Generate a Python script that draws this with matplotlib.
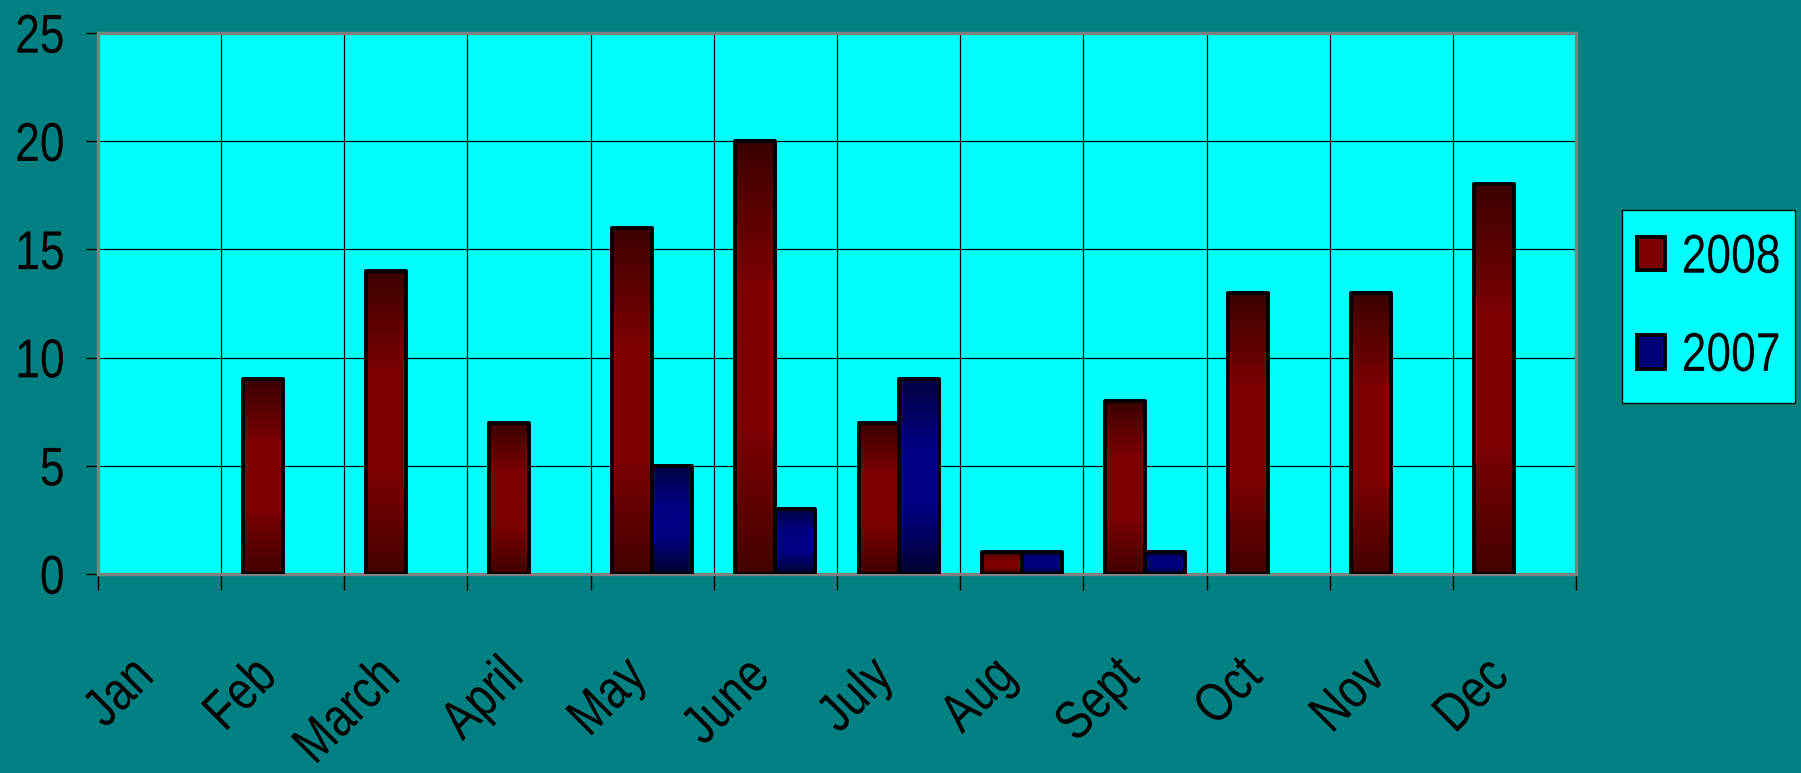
import matplotlib
matplotlib.use("Agg")
import matplotlib.pyplot as plt
import numpy as np
from matplotlib.colors import LinearSegmentedColormap
from matplotlib.patches import Rectangle
from matplotlib.patheffects import AbstractPathEffect
from matplotlib.transforms import Affine2D

months = ["Jan", "Feb", "March", "April", "May", "June",
          "July", "Aug", "Sept", "Oct", "Nov", "Dec"]
y2008 = [0, 9, 14, 7, 16, 20, 7, 1, 8, 13, 13, 18]
y2007 = [0, 0, 0, 0, 5, 3, 9, 1, 1, 0, 0, 0]
series_names = ["2008", "2007"]

plt.rcParams['font.family'] = ['Liberation Sans', 'DejaVu Sans']

teal = "#008080"
cyan = "#00ffff"
red_cmap = LinearSegmentedColormap.from_list("r", ["#420000", "#7c0000", "#7c0000", "#3a0000"])
blue_cmap = LinearSegmentedColormap.from_list("b", ["#000030", "#000080", "#000080", "#000040"])


class Stretch(AbstractPathEffect):
    # the original font is a tall narrow arial: stretch glyphs vertically
    # around half cap height (text paths use 100 units per em)
    def __init__(self, sy=1.23):
        super().__init__()
        self.sy = sy

    def draw_path(self, renderer, gc, tpath, affine, rgbFace=None):
        t = Affine2D().translate(0, -36).scale(1, self.sy).translate(0, 36)
        renderer.draw_path(gc, tpath, t + affine, rgbFace)


fig = plt.figure(figsize=(18.01, 7.73), dpi=100, facecolor=teal)
ax = fig.add_axes([0.0544, 0.2574, 0.8207, 0.6999])
ax.set_facecolor(cyan)

x = np.arange(len(months))
w = 0.325
fs = 32


def gradient_fill(bars, cmap):
    grad = np.linspace(0, 1, 256).reshape(-1, 1)
    for b in bars:
        h = b.get_height()
        if h <= 0:
            b.set_visible(False)
            continue
        bx, by = b.get_xy()
        im = ax.imshow(grad, cmap=cmap, origin="lower", aspect="auto",
                       extent=[bx, bx + b.get_width(), by, by + h],
                       zorder=2.5, interpolation="bilinear")
        im.set_clip_path(b)


b1 = ax.bar(x - w / 2, y2008, w, facecolor="none", edgecolor="black",
            linewidth=2.8, zorder=3, joinstyle="round")
b2 = ax.bar(x + w / 2, y2007, w, facecolor="none", edgecolor="black",
            linewidth=2.8, zorder=3, joinstyle="round")
gradient_fill(b1, red_cmap)
gradient_fill(b2, blue_cmap)

ax.set_xlim(-0.5, len(months) - 0.5)
ax.set_ylim(0, 25)

ax.set_yticks(np.arange(0, 26, 5))
ax.set_xticks(x)
ax.set_xticks(np.arange(len(months) + 1) - 0.5, minor=True)
ax.set_xticklabels(months, rotation=45, ha="right", va="top")
ax.tick_params(axis="x", which="major", length=0, pad=57, labelsize=fs)
ax.tick_params(axis="x", which="minor", length=11.5, width=1, color="black")
ax.tick_params(axis="y", length=9, width=1, color="black", pad=15, labelsize=fs)
for lab in ax.get_xticklabels() + ax.get_yticklabels():
    lab.set_path_effects([Stretch()])

ax.grid(True, axis="y", which="major", color="black", linewidth=0.9, zorder=1)
ax.grid(True, axis="x", which="minor", color="black", linewidth=0.9, zorder=1)
ax.set_axisbelow(True)

for s in ax.spines.values():
    s.set_color("#808080")
    s.set_linewidth(2.4)

handles = [Rectangle((0, 0), 1, 1, facecolor="#7a0000", edgecolor="black", linewidth=2.8),
           Rectangle((0, 0), 1, 1, facecolor="#000078", edgecolor="black", linewidth=2.8)]
leg = fig.legend(handles, series_names, loc="upper left", bbox_to_anchor=(0.894, 0.7283),
                 fontsize=fs, frameon=True, fancybox=False, facecolor=cyan,
                 edgecolor="black", framealpha=1, handlelength=0.63, handleheight=0.79,
                 handletextpad=0.38, labelspacing=1.28, borderpad=0.6,
                 borderaxespad=0)
leg.get_frame().set_linewidth(1.0)
for t in leg.get_texts():
    t.set_path_effects([Stretch()])

# borderpad is needed for the vertical room, make the sides tighter
frame = leg.get_frame()
_set_bounds = frame.set_bounds


def tighter_bounds(*args):
    l, b, wd, ht = args[0] if len(args) == 1 else args
    _set_bounds(l + 12, b, wd - 24, ht)


frame.set_bounds = tighter_bounds

fig.savefig("out.png", dpi=100, facecolor=teal)
